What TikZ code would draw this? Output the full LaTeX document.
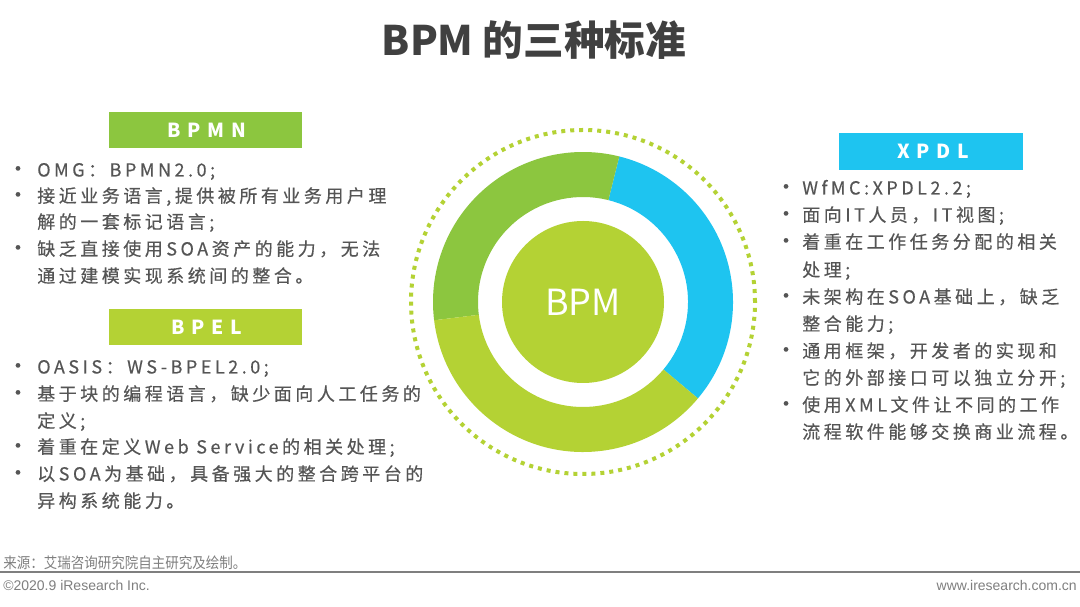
\documentclass[tikz,border=0pt]{standalone}
\usepackage{fontspec}
\usetikzlibrary{calc}
\setmainfont{Noto Sans CJK SC}
\newfontfamily\bodyfont[LetterSpace=19.5,FakeBold=0.4]{Noto Sans CJK SC}
\newfontfamily\labelfont[LetterSpace=35]{Noto Sans CJK SC}
\newfontfamily\footfont[FakeStretch=0.9]{Noto Sans CJK SC}
\newfontfamily\latinfoot{Liberation Sans}
\definecolor{dgreen}{HTML}{8CC63F}
\definecolor{lgreen}{HTML}{B4D234}
\definecolor{cyanb}{HTML}{1EC4F0}
\definecolor{txt}{HTML}{555555}
\definecolor{ttl}{HTML}{404040}
\definecolor{foot}{HTML}{7F7F7F}
\begin{document}
\begin{tikzpicture}[x=0.75pt,y=0.75pt,
  body/.style={font=\bodyfont\fontsize{13.5pt}{16pt}\selectfont, text=txt, inner sep=0pt, anchor=base west},
  bul/.style={font=\bodyfont\fontsize{16pt}{18pt}\selectfont, text=txt, inner sep=0pt, anchor=base},
  labeltext/.style={font=\labelfont\bfseries\fontsize{14.5pt}{16pt}\selectfont, text=white, inner sep=0pt}]
\useasboundingbox (0,0) rectangle (1080,606);
\fill[white] (0,0) rectangle (1080,606);
% title
\node[font=\bfseries\fontsize{30.5pt}{34pt}\selectfont, text=ttl] (title) at (534,566) {BPM 的三种标准};
% donut
\coordinate (c) at (583,304);
\draw[lgreen, line width=3pt, dash pattern=on 3pt off 3.75pt] (c) circle[radius=172];
\fill[cyanb] ($(c)+(-40:150)$) arc[start angle=-40,end angle=76,radius=150] -- ($(c)+(76:105)$) arc[start angle=76,end angle=-40,radius=105] -- cycle;
\fill[dgreen] ($(c)+(76:150)$) arc[start angle=76,end angle=187,radius=150] -- ($(c)+(187:105)$) arc[start angle=187,end angle=76,radius=105] -- cycle;
\fill[lgreen] ($(c)+(187:150)$) arc[start angle=187,end angle=320,radius=150] -- ($(c)+(320:105)$) arc[start angle=320,end angle=187,radius=105] -- cycle;
\fill[lgreen] (c) circle[radius=81];
\node[font=\fontsize{27pt}{30pt}\selectfont, text=white] (bpm) at (c) {BPM};
% label boxes
\fill[dgreen] (109,458) rectangle (302,494);
\node[labeltext] (lbpmn) at (207,476) {BPMN};
\fill[lgreen] (109,261) rectangle (302,297);
\node[labeltext] (lbpel) at (207,279) {BPEL};
\fill[cyanb] (839,436) rectangle (1023,473);
\node[labeltext] (lxpdl) at (933,454.5) {XPDL};
% BPMN text
\node[bul] (b1) at (18,429.5) {•};
\node[body] (t1) at (37,429.5) {OMG：BPMN2.0;};
\node[bul] (b2) at (18,403.5) {•};
\node[body] (t2) at (37,403.5) {接近业务语言,提供被所有业务用户理};
\node[body] (t3) at (37,377.5) {解的一套标记语言;};
\node[bul] (b4) at (18,350.5) {•};
\node[body] (t4) at (37,350.5) {缺乏直接使用SOA资产的能力，无法};
\node[body] (t5) at (37,323.5) {通过建模实现系统间的整合。};
% BPEL text
\node[bul] (e1) at (18,232.5) {•};
\node[body] (u1) at (37,232.5) {OASIS：WS-BPEL2.0;};
\node[bul] (e2) at (18,205.5) {•};
\node[body] (u2) at (37,205.5) {基于块的编程语言，缺少面向人工任务的};
\node[body] (u3) at (37,178.5) {定义;};
\node[bul] (e4) at (18,152.5) {•};
\node[body] (u4) at (37,152.5) {着重在定义Web Service的相关处理;};
\node[bul] (e5) at (18,125.5) {•};
\node[body] (u5) at (37,125.5) {以SOA为基础，具备强大的整合跨平台的};
\node[body] (u6) at (37,98.5) {异构系统能力。};
% XPDL text
\node[bul] (x1) at (786,411.5) {•};
\node[body] (v1) at (802,411.5) {WfMC:XPDL2.2;};
\node[bul] (x2) at (786,384.5) {•};
\node[body] (v2) at (802,384.5) {面向IT人员，IT视图;};
\node[bul] (x3) at (786,357.5) {•};
\node[body] (v3) at (802,357.5) {着重在工作任务分配的相关};
\node[body] (v4) at (802,329.5) {处理;};
\node[bul] (x5) at (786,302.5) {•};
\node[body] (v5) at (802,302.5) {未架构在SOA基础上，缺乏};
\node[body] (v6) at (802,275.5) {整合能力;};
\node[bul] (x7) at (786,248.5) {•};
\node[body] (v7) at (802,248.5) {通用框架，开发者的实现和};
\node[body] (v8) at (802,221.5) {它的外部接口可以独立分开;};
\node[bul] (x9) at (786,194.5) {•};
\node[body] (v9) at (802,194.5) {使用XML文件让不同的工作};
\node[body] (v10) at (802,167.5) {流程软件能够交换商业流程。};
% footer
\node[font=\footfont\fontsize{11.25pt}{12pt}\selectfont, text=foot, anchor=west, inner sep=0pt] (src) at (3,43) {来源：艾瑞咨询研究院自主研究及绘制。};
\coordinate (l1) at (0,34);
\coordinate (l2) at (1080,34);
\draw[foot, line width=1.1pt] (l1) -- (l2);
\node[font=\latinfoot\fontsize{10.5pt}{12pt}\selectfont, text=foot, anchor=west, inner sep=0pt] (copy) at (3,21) {©2020.9 iResearch Inc.};
\node[font=\latinfoot\fontsize{10.5pt}{12pt}\selectfont, text=foot, anchor=east, inner sep=0pt] (www) at (1077,21) {www.iresearch.com.cn};
\end{tikzpicture}
\end{document}
